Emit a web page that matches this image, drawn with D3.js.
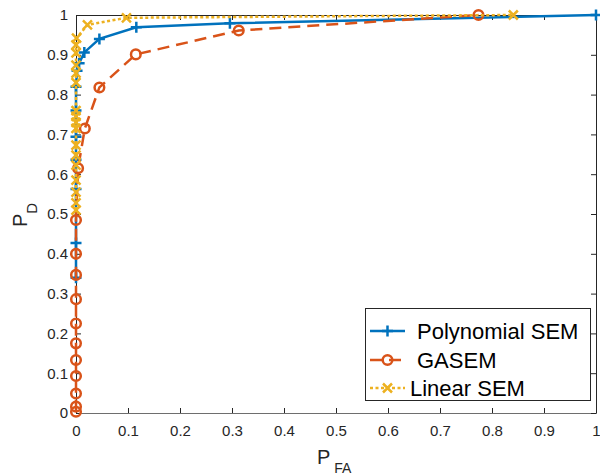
<!DOCTYPE html>
<html><head><meta charset="utf-8">
<script src="https://cdn.jsdelivr.net/npm/d3@7"></script>
<style>body{margin:0;background:#fff}svg{display:block}text{font-family:"Liberation Sans",Arial,Helvetica,sans-serif}</style>
</head><body>
<svg id="c" width="600" height="475"></svg>
<script>
const seriesNames = ["Polynomial SEM", "GASEM", "Linear SEM"];
const polyX = [0, 0, 0, 0, 0, 0, 0, 0.002, 0.006, 0.016, 0.045, 0.116, 0.296, 1];
const polyY = [0.34, 0.427, 0.563, 0.636, 0.694, 0.76, 0.82, 0.86, 0.879, 0.906, 0.94, 0.969, 0.979, 1];
const gasemX = [0, 0, 0, 0, 0, 0, 0, 0, 0, 0, 0, 0.004, 0.017, 0.045, 0.115, 0.313, 0.774];
const gasemY = [0.003, 0.016, 0.049, 0.093, 0.133, 0.175, 0.225, 0.286, 0.347, 0.4, 0.485, 0.615, 0.715, 0.818, 0.901, 0.961, 1.0];
const linX = [0, 0, 0, 0, 0, 0, 0, 0, 0, 0, 0, 0, 0, 0, 0, 0, 0.001, 0.022, 0.097, 0.841];
const linY = [0.51, 0.528, 0.555, 0.585, 0.623, 0.648, 0.673, 0.715, 0.73, 0.745, 0.76, 0.83, 0.854, 0.874, 0.905, 0.925, 0.942, 0.975, 0.993, 1.0];
const xTicks = [0, 0.1, 0.2, 0.3, 0.4, 0.5, 0.6, 0.7, 0.8, 0.9, 1];
const yTicks = [0, 0.1, 0.2, 0.3, 0.4, 0.5, 0.6, 0.7, 0.8, 0.9, 1];

const svg = d3.select("#c");
const L = 76, R = 596, T = 15, B = 413;
const x = d3.scaleLinear().domain([0, 1]).range([L, R]);
const y = d3.scaleLinear().domain([0, 1]).range([B, T]);
const axisColor = "#262626";
const fmt = d => d === 0 ? "0" : d === 1 ? "1" : d3.format(".1f")(d);

const gx = svg.append("g").attr("transform", `translate(0,${B})`)
  .call(d3.axisBottom(x).tickValues(xTicks).tickFormat(fmt).tickSizeInner(-5).tickSizeOuter(0).tickPadding(12));
const gxt = svg.append("g").attr("transform", `translate(0,${T})`)
  .call(d3.axisTop(x).tickValues(xTicks).tickFormat("").tickSizeInner(-5).tickSizeOuter(0));
const gy = svg.append("g").attr("transform", `translate(${L},0)`)
  .call(d3.axisLeft(y).tickValues(yTicks).tickFormat(fmt).tickSizeInner(-5).tickSizeOuter(0).tickPadding(8));
const gyr = svg.append("g").attr("transform", `translate(${R},0)`)
  .call(d3.axisRight(y).tickValues(yTicks).tickFormat("").tickSizeInner(-5).tickSizeOuter(0));
[gx, gxt, gy, gyr].forEach(g => {
  g.selectAll("path").attr("stroke", axisColor).attr("stroke-width", 1);
  g.selectAll("line").attr("stroke", axisColor).attr("stroke-width", 1);
  g.selectAll("text").attr("fill", axisColor).attr("font-size", 15).attr("font-family", '"Liberation Sans",Arial,sans-serif');
});
gx.select("path.domain").attr("stroke", "#6e6e6e");
gx.selectAll(".tick text").attr("dy", "0.71em");

const colors = ["#0072BD", "#D95319", "#EDB120"];
const dashes = [null, "12,7", "3,2.5"];
const datasets = [
  polyX.map((v, i) => [v, polyY[i]]),
  gasemX.map((v, i) => [v, gasemY[i]]),
  linX.map((v, i) => [v, linY[i]])
];
const line = d3.line().x(d => x(d[0])).y(d => y(d[1]));

function marker(g, type, cx, cy, color) {
  if (type === 0) {
    g.append("path").attr("d", `M${cx-5.5},${cy}H${cx+5.5}M${cx},${cy-5.5}V${cy+5.5}`)
      .attr("stroke", color).attr("stroke-width", 2.5).attr("fill", "none");
  } else if (type === 1) {
    g.append("circle").attr("cx", cx).attr("cy", cy).attr("r", 4.8)
      .attr("stroke", color).attr("stroke-width", 2.5).attr("fill", "none");
  } else {
    const s = 4.5;
    g.append("path").attr("d", `M${cx-s},${cy-s}L${cx+s},${cy+s}M${cx-s},${cy+s}L${cx+s},${cy-s}`)
      .attr("stroke", color).attr("stroke-width", 2.5).attr("fill", "none");
  }
}

datasets.forEach((data, k) => {
  const g = svg.append("g");
  g.append("path").datum(data).attr("d", line).attr("fill", "none")
    .attr("stroke", colors[k]).attr("stroke-width", 2.5)
    .attr("stroke-dasharray", dashes[k]);
  data.forEach(d => marker(g, k, x(d[0]), y(d[1]), colors[k]));
});

const lg = svg.append("g");
lg.append("rect").attr("x", 365.5).attr("y", 308.5).attr("width", 225).attr("height", 92)
  .attr("fill", "#fff").attr("stroke", axisColor).attr("stroke-width", 1);
const ly = [331, 360, 388];
const lx = [417, 417, 410];
seriesNames.forEach((name, k) => {
  lg.append("line").attr("x1", 370).attr("x2", 405).attr("y1", ly[k]).attr("y2", ly[k])
    .attr("stroke", colors[k]).attr("stroke-width", 2.5).attr("stroke-dasharray", dashes[k]);
  marker(lg, k, 387.5, ly[k], colors[k]);
  lg.append("text").attr("x", lx[k]).attr("y", ly[k] + 8).attr("font-size", 22).attr("fill", "#000").text(name);
});

const xl = svg.append("text").attr("x", 317).attr("y", 464).attr("font-size", 20).attr("fill", axisColor);
xl.append("tspan").text("P");
xl.append("tspan").attr("font-size", 14).attr("dy", 9).attr("dx", 4).text("FA");
const yl = svg.append("text").attr("transform", "translate(27,227) rotate(-90)").attr("font-size", 20).attr("fill", axisColor);
yl.append("tspan").text("P");
yl.append("tspan").attr("font-size", 15).attr("dy", 10).attr("dx", 0).text("D");
</script>
</body></html>
